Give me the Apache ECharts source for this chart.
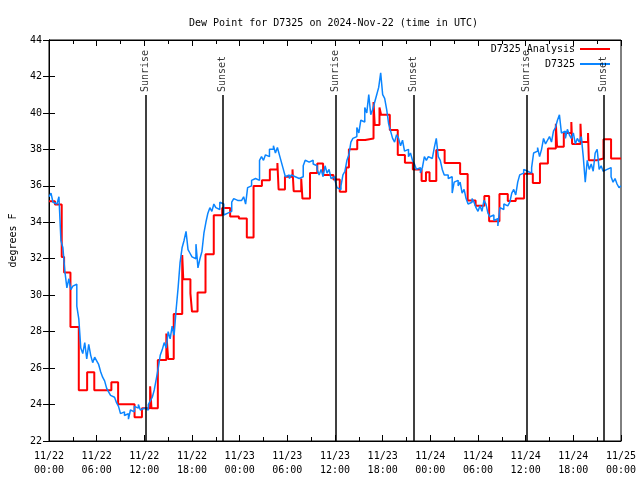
<!DOCTYPE html>
<html><head><meta charset="utf-8">
<script src="https://cdn.jsdelivr.net/npm/echarts@6/dist/echarts.min.js"></script>
<style>html,body{margin:0;padding:0;background:#fff}#c{width:640px;height:480px}</style>
</head><body><div id="c"></div>
<script>
const titleText = 'Dew Point for D7325 on 2024-Nov-22 (time in UTC)';
const seriesNames = ['D7325 Analysis', 'D7325'];
const xTickLabels = ['11/22\n00:00','11/22\n06:00','11/22\n12:00','11/22\n18:00','11/23\n00:00','11/23\n06:00','11/23\n12:00','11/23\n18:00','11/24\n00:00','11/24\n06:00','11/24\n12:00','11/24\n18:00','11/25\n00:00'];
const yAxisName = 'degrees F';

// Observations: one value every 15 minutes from 11/22 00:00 (hours since start)
const blueStepHours = 0.25;
const blueValues = [
35.4,35.6,35.1,35.0,35.0,35.4,33.0,32.6,
31.3,30.4,30.9,30.3,30.5,30.6,29.4,28.7,
27.1,26.8,27.4,26.5,27.3,26.7,26.3,26.6,
26.4,26.2,25.8,25.5,25.3,24.9,24.7,24.5,
24.4,24.3,24.1,23.9,23.5,23.6,23.4,23.5,
23.2,23.7,23.6,23.9,23.8,24.0,23.7,23.8,
23.9,23.7,24.0,24.2,24.4,24.8,25.4,26.0,
26.7,27.0,27.4,27.1,28.0,27.6,28.3,27.8,
29.2,30.4,31.8,32.6,33.0,33.5,32.5,32.3,
32.1,32.0,32.8,31.5,32.0,32.4,33.4,34.0,
34.5,34.8,34.6,35.0,34.8,34.7,35.1,35.0,
34.4,34.5,34.5,34.6,35.1,35.3,35.2,35.2,
35.2,35.2,35.4,35.0,35.9,36.0,36.3,36.4,
36.3,36.3,37.4,37.6,37.4,37.7,37.6,38.0,
38.0,38.2,37.8,38.1,37.7,37.3,36.9,36.5,
36.6,36.4,36.6,36.5,36.6,36.4,36.3,36.5,
37.1,37.4,37.3,37.2,37.4,37.2,37.1,36.9,
36.6,36.9,36.5,37.1,36.7,36.9,36.4,36.5,
36.3,35.9,35.8,36.0,36.6,36.8,37.4,37.7,
38.4,38.6,38.7,39.2,38.9,39.6,39.5,40.3,
40.0,41.0,39.9,40.2,40.6,41.0,41.4,42.2,
41.0,40.8,40.2,39.4,39.0,38.6,38.4,38.8,
38.6,38.2,38.5,37.9,38.0,37.6,37.8,37.4,
37.2,36.9,37.0,36.7,37.0,37.6,37.4,37.6,
37.5,37.4,38.1,38.6,37.6,37.4,36.9,36.6,
36.6,36.4,36.5,35.6,36.2,36.3,36.0,36.2,
35.6,35.8,35.3,35.0,35.1,35.3,35.1,34.8,
34.6,34.9,34.6,35.2,35.0,34.5,34.3,34.4,
34.1,34.2,33.8,34.8,34.7,35.0,34.9,35.0,
35.1,35.6,35.8,35.5,36.2,36.6,36.7,36.9,
36.8,36.9,36.7,37.0,37.8,37.9,38.1,37.6,
38.0,38.6,38.3,38.5,38.7,38.4,39.0,39.2,
39.6,39.9,38.9,39.0,38.6,39.1,38.8,38.6,
38.9,38.3,38.6,38.4,38.7,37.6,36.2,37.4,
36.9,37.2,36.8,37.8,38.0,36.9,37.1,36.8,
36.9,36.8,37.0,36.5,36.2,36.4,36.1,35.9,
36.0
];

// Analysis: value changes (hours since 11/22 00:00) and values held until next change
const redHours = [0,0.75,1.6,1.9,2.7,3.75,4.8,5.7,7.85,8.7,10.77,11.7,12.73,12.9,13.7,14.77,15.0,15.7,16.77,16.9,17.8,18.0,18.7,19.7,20.74,21.8,22.8,23.9,24.9,25.75,26.8,27.8,28.75,28.9,29.7,30.65,30.8,31.75,31.9,32.85,33.77,34.5,35.8,36.6,37.4,37.75,38.8,39.8,40.85,41.0,41.6,41.8,42.9,43.9,44.8,45.8,46.9,47.45,47.9,48.75,49.8,51.75,52.7,53.7,54.8,55.4,56.7,57.75,58.75,59.8,60.9,61.8,62.8,63.8,63.95,64.8,65.75,65.85,66.9,67.0,67.85,67.95,68.95,69.8,70.75,72];
const redValues = [35.15,34.98,32.1,31.25,28.25,24.78,25.77,24.78,25.22,24.02,23.3,23.8,25.0,23.8,26.45,27.9,26.5,28.97,32.2,30.87,30.1,29.1,30.15,32.24,34.38,34.78,34.32,34.21,33.17,35.99,36.3,36.9,37.25,35.8,36.5,36.9,35.7,36.4,35.3,36.7,37.23,36.6,36.35,35.68,37.0,38.0,38.51,38.6,40.6,39.33,40.3,39.9,39.06,37.69,37.27,36.9,36.26,36.74,36.26,37.96,37.25,36.65,35.2,34.9,35.44,34.05,35.55,35.17,35.31,36.66,36.15,37.23,38.05,39.4,38.15,38.9,39.5,38.3,39.4,38.4,38.9,37.4,37.5,38.55,37.5,37.5];

// Sunrise / sunset times (hours since 11/22 00:00)
const sunHours = [12.19, 21.83, 36.06, 45.88, 60.08, 69.79];
const sunLabels = ['Sunrise','Sunset','Sunrise','Sunset','Sunrise','Sunset'];
const sunLineTop = 40.98;

const FONT = 'DejaVu Sans Mono';
const blueData = blueValues.map((v, i) => [i * blueStepHours, v]);
const redData = redHours.map((h, i) => [h, redValues[i]]);

const chart = echarts.init(document.getElementById('c'), null, {renderer: 'canvas'});
const baseX = {
  type: 'value', min: 0, max: 72, interval: 6,
  axisLine: {show: true, lineStyle: {color: '#000', width: 1}},
  axisTick: {show: true, inside: true, length: 6, lineStyle: {color: '#000'}},
  minorTick: {show: true, splitNumber: 2, length: 4, lineStyle: {color: '#000'}},
  splitLine: {show: false}
};
const baseY = {
  type: 'value', min: 22, max: 44, interval: 2,
  axisLine: {show: true, lineStyle: {color: '#000', width: 1}},
  axisTick: {show: true, inside: true, length: 6, lineStyle: {color: '#000'}},
  splitLine: {show: false}
};
chart.setOption({
  animation: false,
  backgroundColor: '#fff',
  title: {text: titleText, left: 184, top: 13,
    textStyle: {fontFamily: FONT, fontSize: 10, fontWeight: 'normal', color: '#000'}},
  grid: {left: 46, right: 19, top: 40, bottom: 39, show: true, borderColor: '#000', borderWidth: 1},
  legend: {
    data: seriesNames, orient: 'vertical', align: 'right', right: 25, top: 39,
    itemWidth: 30, itemHeight: 2, itemGap: 5, icon: 'rect',
    textStyle: {fontFamily: FONT, fontSize: 10, color: '#000'}
  },
  xAxis: [
    Object.assign({}, baseX, {position: 'bottom',
      axisLabel: {margin: 8, fontFamily: FONT, fontSize: 10, color: '#000', lineHeight: 14,
        formatter: v => xTickLabels[Math.round(v / 6)] || ''}}),
    Object.assign({}, baseX, {position: 'top', axisLabel: {show: false}})
  ],
  yAxis: [
    Object.assign({}, baseY, {position: 'left', name: yAxisName, nameLocation: 'middle', nameGap: 31,
      nameTextStyle: {fontFamily: FONT, fontSize: 10, color: '#000'},
      axisLabel: {margin: 7, fontFamily: FONT, fontSize: 10, color: '#000'}}),
    Object.assign({}, baseY, {position: 'right', axisLabel: {show: false}})
  ],
  series: [
    {name: seriesNames[0], type: 'line', step: 'end', data: redData, showSymbol: false, symbol: 'none',
      color: '#ff0000', lineStyle: {color: '#ff0000', width: 2}, z: 3},
    {name: seriesNames[1], type: 'line', step: 'end', data: blueData, showSymbol: false, symbol: 'none',
      color: '#0a85ff', lineStyle: {color: '#0a85ff', width: 1.5}, z: 4,
      markLine: {silent: true, symbol: ['none','none'], label: {show: false},
        lineStyle: {color: '#000', width: 1.5, type: 'solid'},
        data: sunHours.map(h => [{coord: [h, 22]}, {coord: [h, sunLineTop]}])}},
    {name: 'sun', type: 'scatter', symbolSize: 0.01, silent: true,
      data: sunHours.map((h, i) => ({value: [h, sunLineTop], name: sunLabels[i]})),
      label: {show: true, formatter: '{b}', position: 'top', distance: 3, rotate: 90,
        align: 'left', verticalAlign: 'middle', fontFamily: FONT, fontSize: 10, color: '#000'}, z: 5}
  ]
});
</script></body></html>
